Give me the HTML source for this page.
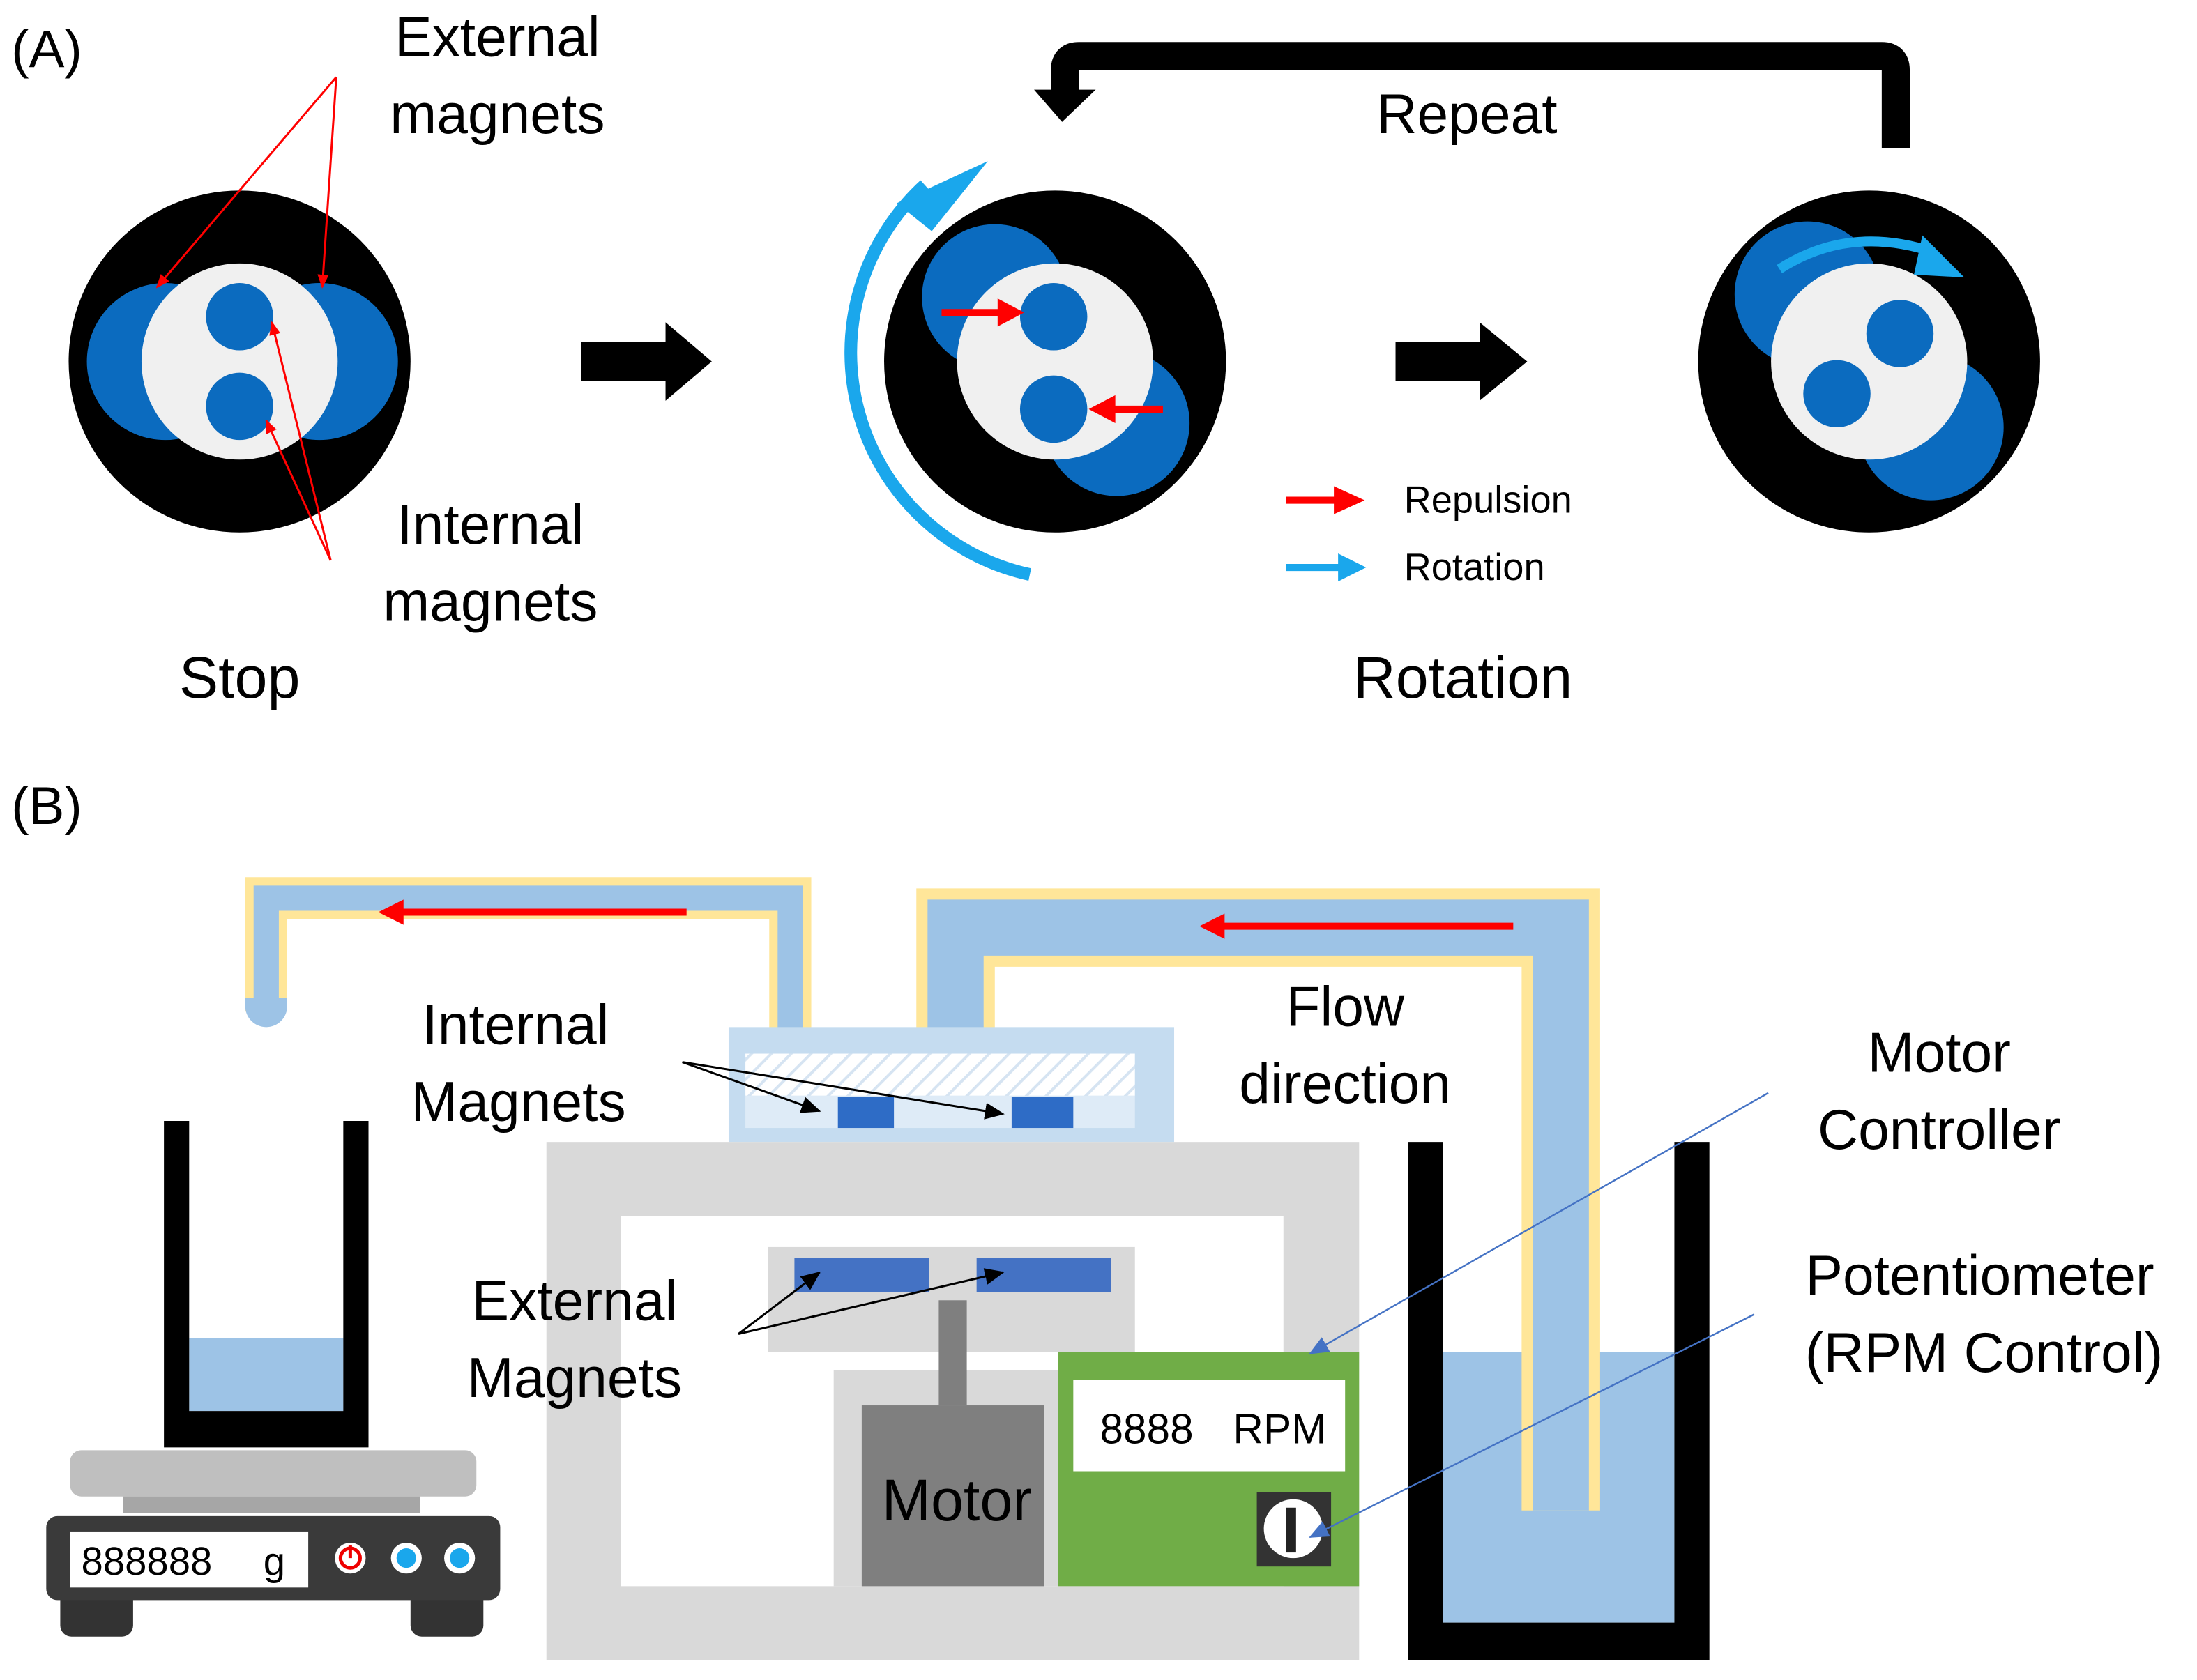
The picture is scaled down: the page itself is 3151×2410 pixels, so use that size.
<!DOCTYPE html>
<html><head><meta charset="utf-8"><style>
html,body{margin:0;padding:0;background:#fff}
svg{display:block}
text{font-family:"Liberation Sans",Arial,sans-serif;fill:#000}
</style></head><body>
<svg width="3151" height="2410" viewBox="0 0 1568 1199" preserveAspectRatio="none" xmlns="http://www.w3.org/2000/svg">
<defs>
<marker id="rhs" markerWidth="10" markerHeight="10" refX="9" refY="5" orient="auto" markerUnits="userSpaceOnUse"><path d="M0,1 L10,5 L0,9 z" fill="#ff0000"/></marker>
<marker id="bk" markerWidth="14" markerHeight="12" refX="13" refY="6" orient="auto" markerUnits="userSpaceOnUse"><path d="M0,0 L14,6 L0,12 z" fill="#000"/></marker>
<marker id="bl" markerWidth="14" markerHeight="12" refX="13" refY="6" orient="auto" markerUnits="userSpaceOnUse"><path d="M0,0 L14,6 L0,12 z" fill="#4472c4"/></marker>
<pattern id="hatch" width="10" height="10" patternUnits="userSpaceOnUse" patternTransform="rotate(45)"><rect width="10" height="10" fill="#fff"/><line x1="0" y1="0" x2="0" y2="10" stroke="#d6e4f2" stroke-width="4"/></pattern>
</defs>

<text x="8" y="48" font-size="38">(A)</text>
<text x="355" y="40" font-size="40" text-anchor="middle">External</text>
<text x="355" y="95" font-size="40" text-anchor="middle">magnets</text>
<text x="350" y="388" font-size="40" text-anchor="middle">Internal</text>
<text x="350" y="443" font-size="40" text-anchor="middle">magnets</text>
<text x="171" y="498" font-size="42" text-anchor="middle">Stop</text>

<circle cx="171" cy="258" r="122" fill="#000"/>
<circle cx="118" cy="258" r="56" fill="#0b6bbf"/>
<circle cx="228" cy="258" r="56" fill="#0b6bbf"/>
<circle cx="171" cy="258" r="70" fill="#f0f0f0"/>
<circle cx="171" cy="226" r="24" fill="#0b6bbf"/>
<circle cx="171" cy="290" r="24" fill="#0b6bbf"/>
<g stroke="#ff0000" stroke-width="1.5" fill="none">
<line x1="240" y1="55" x2="112" y2="205" marker-end="url(#rhs)"/>
<line x1="240" y1="55" x2="230" y2="205" marker-end="url(#rhs)"/>
<line x1="236" y1="400" x2="194" y2="230" marker-end="url(#rhs)"/>
<line x1="236" y1="400" x2="190" y2="300" marker-end="url(#rhs)"/>
</g>

<path d="M415,244 H475 V230 L508,258 L475,286 V272 H415 z" fill="#000"/>
<path d="M996,244 H1056 V230 L1090,258 L1056,286 V272 H996 z" fill="#000"/>

<circle cx="753" cy="258" r="122" fill="#000"/>
<circle cx="710" cy="212" r="52" fill="#0b6bbf"/>
<circle cx="797" cy="302" r="52" fill="#0b6bbf"/>
<circle cx="753" cy="258" r="70" fill="#f0f0f0"/>
<circle cx="752" cy="226" r="24" fill="#0b6bbf"/>
<circle cx="752" cy="292" r="24" fill="#0b6bbf"/>
<line x1="672" y1="223" x2="715" y2="223" stroke="#ff0000" stroke-width="5"/>
<path d="M712,213 L731,223 L712,233 z" fill="#ff0000"/>
<line x1="830" y1="292" x2="793" y2="292" stroke="#ff0000" stroke-width="5"/>
<path d="M796,282 L777,292 L796,302 z" fill="#ff0000"/>
<path d="M735,410 A162,162 0 0 1 660,132" fill="none" stroke="#1aa7ec" stroke-width="9"/>
<path d="M640,145 L705,115 L665,165 z" fill="#1aa7ec"/>

<circle cx="1334" cy="258" r="122" fill="#000"/>
<circle cx="1290" cy="210" r="52" fill="#0b6bbf"/>
<circle cx="1378" cy="305" r="52" fill="#0b6bbf"/>
<circle cx="1334" cy="258" r="70" fill="#f0f0f0"/>
<circle cx="1356" cy="238" r="24" fill="#0b6bbf"/>
<circle cx="1311" cy="281" r="24" fill="#0b6bbf"/>
<path d="M1270,192 Q1320,160 1380,180" fill="none" stroke="#1aa7ec" stroke-width="7"/>
<path d="M1372,168 L1402,198 L1366,196 z" fill="#1aa7ec"/>

<path d="M1353,106 V50 Q1353,40 1343,40 H770 Q760,40 760,50 V68" fill="none" stroke="#000" stroke-width="20"/>
<path d="M738,64 L782,64 L758,87 z" fill="#000"/>
<text x="1047" y="95" font-size="40" text-anchor="middle">Repeat</text>

<line x1="918" y1="357" x2="955" y2="357" stroke="#ff0000" stroke-width="5"/>
<path d="M952,347 L974,357 L952,367 z" fill="#ff0000"/>
<text x="1002" y="366" font-size="27">Repulsion</text>
<line x1="918" y1="405" x2="958" y2="405" stroke="#1aa7ec" stroke-width="5"/>
<path d="M955,395 L975,405 L955,415 z" fill="#1aa7ec"/>
<text x="1002" y="414" font-size="27">Rotation</text>
<text x="1044" y="498" font-size="42" text-anchor="middle">Rotation</text>

<text x="8" y="588" font-size="38">(B)</text>

<path d="M190,722 V641 H564 V752" fill="none" stroke="#ffe699" stroke-width="30"/>
<path d="M190,722 V641 H564 V752" fill="none" stroke="#9dc3e6" stroke-width="18"/>
<path d="M175,712 H205 V718 A15,15 0 0 1 175,718 z" fill="#9dc3e6"/>
<line x1="490" y1="651" x2="285" y2="651" stroke="#ff0000" stroke-width="5"/>
<path d="M288,642 L270,651 L288,660 z" fill="#ff0000"/>

<path d="M682,752 V662 H1114 V1078" fill="none" stroke="#ffe699" stroke-width="56"/>
<path d="M682,752 V662 H1114 V1078" fill="none" stroke="#9dc3e6" stroke-width="40"/>
<line x1="1080" y1="661" x2="872" y2="661" stroke="#ff0000" stroke-width="5"/>
<path d="M874,652 L856,661 L874,670 z" fill="#ff0000"/>

<rect x="520" y="733" width="318" height="82" fill="#c5dcf0"/>
<rect x="532" y="752" width="278" height="30" fill="url(#hatch)"/>
<rect x="532" y="782" width="278" height="23" fill="#deebf7"/>
<rect x="598" y="783" width="40" height="22" fill="#2e6cc6"/>
<rect x="722" y="783" width="44" height="22" fill="#2e6cc6"/>

<rect x="390" y="815" width="580" height="370" fill="#d9d9d9"/>
<rect x="443" y="868" width="473" height="264" fill="#fff"/>
<rect x="548" y="890" width="262" height="75" fill="#d9d9d9"/>
<rect x="595" y="978" width="160" height="154" fill="#d9d9d9"/>
<rect x="567" y="898" width="96" height="24" fill="#4472c4"/>
<rect x="697" y="898" width="96" height="24" fill="#4472c4"/>
<rect x="670" y="928" width="20" height="75" fill="#7f7f7f"/>
<rect x="615" y="1003" width="130" height="129" fill="#7f7f7f"/>
<text x="683" y="1085" font-size="42" text-anchor="middle">Motor</text>

<rect x="755" y="965" width="215" height="167" fill="#70ad47"/>
<rect x="766" y="985" width="194" height="65" fill="#fff"/>
<text x="785" y="1030" font-size="30" font-family="Liberation Mono">8888</text>
<text x="880" y="1030" font-size="30">RPM</text>
<rect x="897" y="1065" width="53" height="53" fill="#333"/>
<circle cx="923" cy="1091" r="21" fill="#fff"/>
<rect x="918" y="1076" width="7" height="32" fill="#222"/>

<rect x="1030" y="965" width="165" height="193" fill="#9dc3e6"/>
<path d="M1005,815 V1185 H1220 V815 H1195 V1158 H1030 V815 z" fill="#000"/>
<path d="M1114,965 V1078" stroke="#ffe699" stroke-width="56" fill="none"/>
<path d="M1114,965 V1078" stroke="#9dc3e6" stroke-width="40" fill="none"/>

<rect x="135" y="955" width="110" height="52" fill="#9dc3e6"/>
<path d="M117,800 V1033 H263 V800 H245 V1007 H135 V800 z" fill="#000"/>

<rect x="50" y="1035" width="290" height="33" rx="8" fill="#bfbfbf"/>
<rect x="88" y="1068" width="212" height="12" fill="#a6a6a6"/>
<rect x="43" y="1130" width="52" height="38" rx="8" fill="#333"/>
<rect x="293" y="1130" width="52" height="38" rx="8" fill="#333"/>
<rect x="33" y="1082" width="324" height="60" rx="8" fill="#3a3a3a"/>
<rect x="50" y="1093" width="170" height="40" fill="#fff"/>
<text x="58" y="1124" font-size="28" font-family="Liberation Mono">888888</text>
<text x="188" y="1124" font-size="28">g</text>
<circle cx="250" cy="1112" r="11" fill="#fff"/>
<circle cx="250" cy="1112" r="7" fill="none" stroke="#e00" stroke-width="2.5"/>
<line x1="250" y1="1103" x2="250" y2="1112" stroke="#e00" stroke-width="2.5"/>
<circle cx="290" cy="1112" r="11" fill="#fff"/>
<circle cx="290" cy="1112" r="7" fill="#1aa7ec"/>
<circle cx="328" cy="1112" r="11" fill="#fff"/>
<circle cx="328" cy="1112" r="7" fill="#1aa7ec"/>

<text x="368" y="745" font-size="40" text-anchor="middle">Internal</text>
<text x="370" y="800" font-size="40" text-anchor="middle">Magnets</text>
<g stroke="#000" stroke-width="1.5">
<line x1="487" y1="758" x2="585" y2="793" marker-end="url(#bk)"/>
<line x1="487" y1="758" x2="716" y2="795" marker-end="url(#bk)"/>
<line x1="527" y1="952" x2="585" y2="908" marker-end="url(#bk)"/>
<line x1="527" y1="952" x2="716" y2="908" marker-end="url(#bk)"/>
</g>
<text x="410" y="942" font-size="40" text-anchor="middle">External</text>
<text x="410" y="997" font-size="40" text-anchor="middle">Magnets</text>
<text x="960" y="732" font-size="40" text-anchor="middle">Flow</text>
<text x="960" y="787" font-size="40" text-anchor="middle">direction</text>
<text x="1384" y="765" font-size="40" text-anchor="middle">Motor</text>
<text x="1384" y="820" font-size="40" text-anchor="middle">Controller</text>
<text x="1413" y="924" font-size="40" text-anchor="middle">Potentiometer</text>
<text x="1416" y="979" font-size="40" text-anchor="middle">(RPM Control)</text>
<g stroke="#4472c4" stroke-width="1.2">
<line x1="1262" y1="780" x2="935" y2="966" marker-end="url(#bl)"/>
<line x1="1252" y1="938" x2="935" y2="1097" marker-end="url(#bl)"/>
</g>
</svg>
</body></html>
